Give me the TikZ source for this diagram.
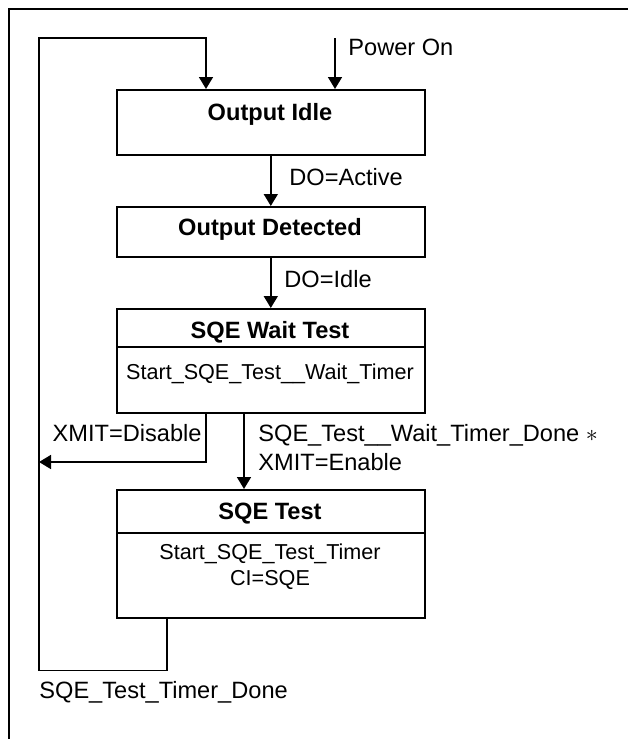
\documentclass[tikz,border=0pt]{standalone}
\usepackage{fontspec}
\setmainfont{Liberation Sans}
\usetikzlibrary{arrows.meta,positioning}
\tikzset{
        statebox/.style={draw,line width=0.8pt,minimum width=154pt,inner sep=0pt,anchor=north west},
        trans/.style={line width=0.8pt,-{Triangle[length=6pt,width=7pt]}},
        lbl/.style={font=\fontsize{11.8}{13}\selectfont,inner sep=0pt,text height=8.4pt,text depth=0pt},
        body/.style={lbl,font=\fontsize{10.8}{13}\selectfont,text height=7.7pt},
        ttl/.style={lbl,font=\fontsize{11.8}{13}\selectfont\bfseries}
}
\begin{document}
\begin{tikzpicture}[x=0.5pt,y=-0.5pt]
        \useasboundingbox (0,0) rectangle (627,739);
        \draw[line width=0.8pt] (9,760) -- (9,9) -- (650,9);
        \node[statebox,minimum height=32.5pt] (idle) at (116,89) {};
        \node[ttl] (idleT) at (270,112) {Output Idle};
        \node[statebox,minimum height=25pt] (det) at (116,206) {};
        \node[ttl] (detT) at (270,227) {Output Detected};
        \node[statebox,minimum height=52pt] (wait) at (116,308) {};
        \node[ttl] (waitT) at (270,330) {SQE Wait Test};
        \draw[line width=0.8pt] ([yshift=-19.5pt]wait.north west) -- ([yshift=-19.5pt]wait.north east);
        \node[body] (waitA) at (270,372) {Start\_SQE\_Test\_\_Wait\_Timer};
        \node[statebox,minimum height=64pt] (sqe) at (116,489) {};
        \node[ttl] (sqeT) at (270,511) {SQE Test};
        \draw[line width=0.8pt] ([yshift=-22pt]sqe.north west) -- ([yshift=-22pt]sqe.north east);
        \node[body] (sqeA) at (270,552) {Start\_SQE\_Test\_Timer};
        \node[body] (sqeB) at (270,578) {CI=SQE};
        \coordinate (pwr) at (335,38);
        \coordinate (back) at (39,38);
        \coordinate (drop) at (39,462);
        \draw[trans] (pwr) -- (pwr |- idle.north);
        \node[lbl,anchor=west] (pwrL) at (348,47) {Power On};
        \draw[trans] (idle.south) -- (det.north);
        \node[lbl,anchor=west] (actL) at (289,177) {DO=Active};
        \draw[trans] (det.south) -- (wait.north);
        \node[lbl,anchor=west] (idlL) at (284,279) {DO=Idle};
        \draw[trans] ([xshift=64pt]wait.south west) -- ([xshift=64pt]sqe.north west);
        \node[lbl,anchor=west] (doneL) at (258,433) {SQE\_Test\_\_Wait\_Timer\_Done $\ast$};
        \node[lbl,anchor=west] (enL) at (258,462) {XMIT=Enable};
        \draw[trans] ([xshift=45pt]wait.south west) |- (drop);
        \node[lbl,anchor=east] (disL) at (202,433) {XMIT=Disable};
        \draw[trans] ([xshift=25.5pt]sqe.south west) -- ++(0,52) -| (back) -| ([xshift=45pt]idle.north west);
        \node[lbl,anchor=west] (tdL) at (39,690) {SQE\_Test\_Timer\_Done};
\end{tikzpicture}
\end{document}
